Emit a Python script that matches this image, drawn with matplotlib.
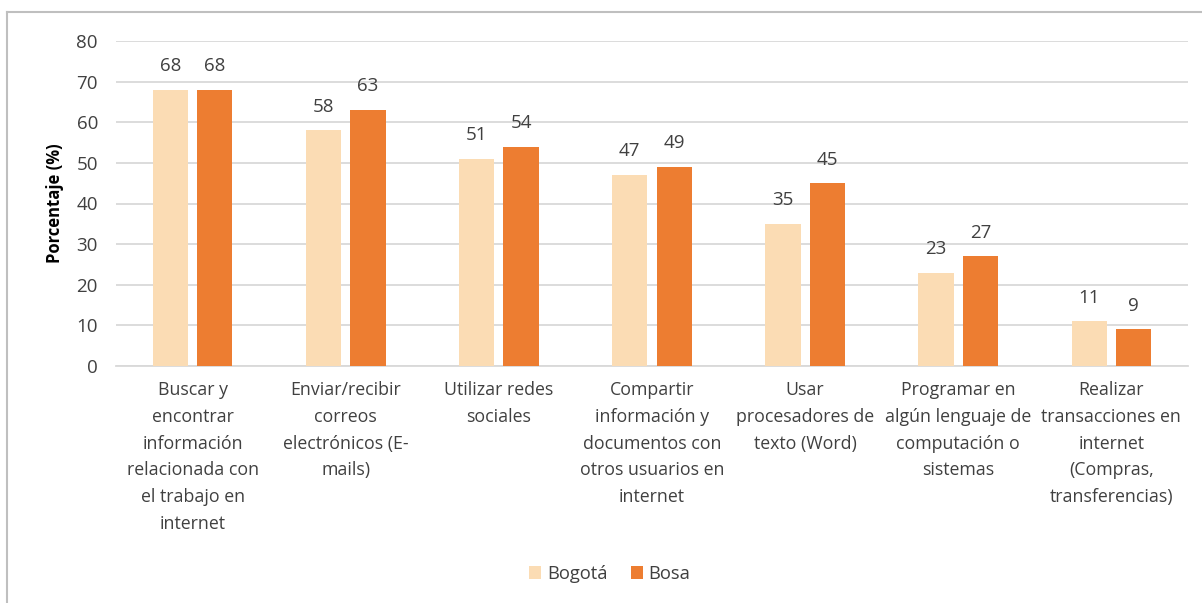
import matplotlib
matplotlib.use("Agg")
import matplotlib.pyplot as plt
from matplotlib.lines import Line2D
from matplotlib.patches import Patch
import numpy as np

plt.rcParams['font.family'] = ['Open Sans', 'DejaVu Sans']

categories = [
    "Buscar y\nencontrar\ninformación\nrelacionada con\nel trabajo en\ninternet",
    "Enviar/recibir\ncorreos\nelectrónicos (E-\nmails)",
    "Utilizar redes\nsociales",
    "Compartir\ninformación y\ndocumentos con\notros usuarios en\ninternet",
    "Usar\nprocesadores de\ntexto (Word)",
    "Programar en\nalgún lenguaje de\ncomputación o\nsistemas",
    "Realizar\ntransacciones en\ninternet\n(Compras,\ntransferencias)",
]
bogota = [68, 58, 51, 47, 35, 23, 11]
bosa = [68, 63, 54, 49, 45, 27, 9]
series_names = ["Bogotá", "Bosa"]
yticks = [0, 10, 20, 30, 40, 50, 60, 70, 80]

c_bogota = "#FBDCB4"
c_bosa = "#ED7D31"
text_color = "#404040"
grid_color = "#D9D9D9"

W, H = 1202, 603
fig = plt.figure(figsize=(W / 100, H / 100), dpi=100)
ax = fig.add_axes([116 / W, 1 - 366 / H, (1188 - 116) / W, (366 - 41) / H])

x = np.arange(len(categories))
bw = 0.23
gap = 0.06
off = (bw + gap) / 2
b1 = ax.bar(x - off, bogota, bw, color=c_bogota, zorder=3)
b2 = ax.bar(x + off, bosa, bw, color=c_bosa, zorder=3)

for bars, vals in ((b1, bogota), (b2, bosa)):
    for r, v in zip(bars, vals):
        ax.annotate(str(v), (r.get_x() + r.get_width() / 2, v),
                    xytext=(0, 17), textcoords="offset points",
                    ha="center", va="center", fontsize=13.5, color=text_color)

ax.set_xlim(-0.5, len(categories) - 0.5)
ax.set_ylim(0, 80)
ax.set_yticks(yticks)
ax.set_yticklabels([str(t) for t in yticks], fontsize=13.5, color=text_color)
ax.set_xticks(x)
ax.set_xticklabels(categories, fontsize=12.8, color=text_color, linespacing=1.62, va="top")
ax.tick_params(axis="both", length=0)
ax.tick_params(axis="y", pad=13)
ax.tick_params(axis="x", pad=11)

ax.grid(axis="y", color=grid_color, linewidth=1.3, zorder=0)
for s in ("top", "right", "left"):
    ax.spines[s].set_visible(False)
ax.spines["bottom"].set_color(grid_color)
ax.spines["bottom"].set_linewidth(1.3)

ax.set_ylabel("Porcentaje (%)", fontsize=12, fontweight="bold", color="black")
ax.yaxis.set_label_coords(-(116 - 64) / (1188 - 116), 0.5)

handles = [Patch(facecolor=c_bogota, edgecolor="none"), Patch(facecolor=c_bosa, edgecolor="none")]
fig.legend(handles, series_names, loc="center", bbox_to_anchor=(610 / W, 1 - 574 / H),
           ncol=2, frameon=False, fontsize=13.2, handlelength=0.65, handleheight=0.65,
           handletextpad=0.3, columnspacing=1.3, labelcolor=text_color)

# chart frame
fig.add_artist(Line2D([7 / W, 7 / W], [0, 1 - 12 / H], transform=fig.transFigure,
                      color="#BFBFBF", linewidth=1.5))
fig.add_artist(Line2D([7 / W, 1], [1 - 12 / H, 1 - 12 / H], transform=fig.transFigure,
                      color="#BFBFBF", linewidth=1.5))

fig.savefig("out.png", dpi=100)
